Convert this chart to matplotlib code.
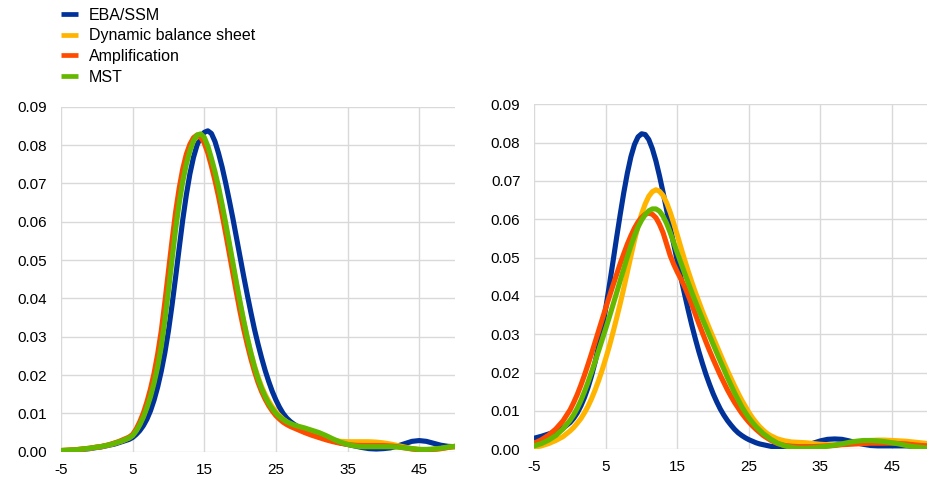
import matplotlib
matplotlib.use("Agg")
import matplotlib.pyplot as plt
from matplotlib.lines import Line2D

plt.rcParams["font.family"] = ["Liberation Sans", "DejaVu Sans"]

# x grid shared by all density curves: step 1 in the tails, 0.5 between 0 and 28
x_vals = [-5, -4, -3, -2, -1] + [i / 2 for i in range(0, 57)] + list(range(29, 51))

series_names = ["EBA/SSM", "Dynamic balance sheet", "Amplification", "MST"]
series_colors = ["#003299", "#FFB400", "#FF4B00", "#65B800"]

# left panel
eba_left = [0.0002, 0.0003, 0.0004, 0.0006, 0.0008,
            0.0011, 0.0012, 0.0014, 0.0016, 0.0018, 0.0020, 0.0023, 0.0026, 0.0029, 0.0032,
            0.0037, 0.0045, 0.0055, 0.0068, 0.0085, 0.0107, 0.0135, 0.0169, 0.0210, 0.0258,
            0.0315, 0.0382, 0.0455, 0.0531, 0.0605, 0.0670, 0.0725, 0.0768, 0.0800, 0.0821,
            0.0833, 0.0837, 0.0830, 0.0809, 0.0778, 0.0742, 0.0700, 0.0655, 0.0608, 0.0558,
            0.0508, 0.0458, 0.0410, 0.0364, 0.0320, 0.0281, 0.0245, 0.0212, 0.0183, 0.0157,
            0.0135, 0.0116, 0.0100, 0.0088, 0.0079, 0.0072, 0.0066,
            0.0056, 0.0047, 0.0040, 0.0034, 0.0028, 0.0023, 0.0019, 0.0015, 0.0011, 0.0008,
            0.0007, 0.0008, 0.0010, 0.0015, 0.0021, 0.0027, 0.0029, 0.0027, 0.0022, 0.0017,
            0.0014, 0.0013]
dbs_left = [0.0003, 0.0004, 0.0005, 0.0007, 0.0009,
            0.0012, 0.0013, 0.0015, 0.0017, 0.0019, 0.0022, 0.0025, 0.0028, 0.0032, 0.0036,
            0.0043, 0.0056, 0.0073, 0.0094, 0.0120, 0.0151, 0.0188, 0.0233, 0.0288, 0.0359,
            0.0438, 0.0520, 0.0598, 0.0663, 0.0717, 0.0760, 0.0792, 0.0812, 0.0822, 0.0822,
            0.0812, 0.0789, 0.0757, 0.0722, 0.0682, 0.0637, 0.0588, 0.0537, 0.0486, 0.0435,
            0.0386, 0.0340, 0.0297, 0.0258, 0.0224, 0.0195, 0.0170, 0.0149, 0.0132, 0.0117,
            0.0104, 0.0094, 0.0085, 0.0078, 0.0071, 0.0066, 0.0061,
            0.0052, 0.0045, 0.0039, 0.0034, 0.0030, 0.0027, 0.0026, 0.0026, 0.0026, 0.0026,
            0.0025, 0.0023, 0.0020, 0.0016, 0.0012, 0.0008, 0.0006, 0.0005, 0.0006, 0.0008,
            0.0011, 0.0013]
amp_left = [0.0003, 0.0004, 0.0005, 0.0007, 0.0009,
            0.0012, 0.0013, 0.0015, 0.0017, 0.0020, 0.0023, 0.0026, 0.0030, 0.0034, 0.0038,
            0.0045, 0.0059, 0.0078, 0.0101, 0.0130, 0.0164, 0.0205, 0.0255, 0.0315, 0.0390,
            0.0470, 0.0550, 0.0625, 0.0687, 0.0738, 0.0776, 0.0802, 0.0819, 0.0826, 0.0821,
            0.0805, 0.0779, 0.0745, 0.0707, 0.0665, 0.0618, 0.0568, 0.0517, 0.0465, 0.0414,
            0.0365, 0.0320, 0.0280, 0.0243, 0.0210, 0.0181, 0.0157, 0.0137, 0.0120, 0.0106,
            0.0094, 0.0085, 0.0077, 0.0071, 0.0066, 0.0062, 0.0058,
            0.0050, 0.0043, 0.0037, 0.0031, 0.0026, 0.0022, 0.0019, 0.0017, 0.0016, 0.0016,
            0.0016, 0.0016, 0.0015, 0.0013, 0.0010, 0.0007, 0.0005, 0.0005, 0.0006, 0.0008,
            0.0011, 0.0014]
mst_left = [0.0003, 0.0004, 0.0005, 0.0007, 0.0009,
            0.0012, 0.0013, 0.0015, 0.0017, 0.0019, 0.0022, 0.0025, 0.0028, 0.0032, 0.0036,
            0.0042, 0.0054, 0.0070, 0.0090, 0.0115, 0.0144, 0.0180, 0.0222, 0.0275, 0.0343,
            0.0420, 0.0501, 0.0580, 0.0648, 0.0705, 0.0750, 0.0785, 0.0811, 0.0826, 0.0829,
            0.0820, 0.0797, 0.0765, 0.0730, 0.0690, 0.0644, 0.0595, 0.0544, 0.0492, 0.0440,
            0.0390, 0.0342, 0.0298, 0.0258, 0.0222, 0.0191, 0.0165, 0.0144, 0.0126, 0.0112,
            0.0100, 0.0091, 0.0084, 0.0078, 0.0074, 0.0070, 0.0067,
            0.0062, 0.0056, 0.0050, 0.0042, 0.0033, 0.0025, 0.0019, 0.0015, 0.0013, 0.0013,
            0.0013, 0.0013, 0.0013, 0.0012, 0.0010, 0.0008, 0.0006, 0.0006, 0.0007, 0.0009,
            0.0012, 0.0014]

# right panel
eba_right = [0.0029, 0.0034, 0.0040, 0.0046, 0.0055,
             0.0070, 0.0081, 0.0095, 0.0113, 0.0135, 0.0161, 0.0192, 0.0228, 0.0270, 0.0317,
             0.0370, 0.0429, 0.0490, 0.0552, 0.0612, 0.0669, 0.0720, 0.0763, 0.0795, 0.0815,
             0.0823, 0.0821, 0.0808, 0.0784, 0.0752, 0.0713, 0.0670, 0.0624, 0.0578, 0.0534,
             0.0490, 0.0447, 0.0405, 0.0364, 0.0325, 0.0289, 0.0255, 0.0224, 0.0195, 0.0169,
             0.0145, 0.0124, 0.0105, 0.0089, 0.0075, 0.0063, 0.0052, 0.0043, 0.0036, 0.0030,
             0.0025, 0.0021, 0.0017, 0.0014, 0.0012, 0.0010, 0.0008,
             0.0005, 0.0004, 0.0004, 0.0006, 0.0010, 0.0016, 0.0022, 0.0026, 0.0027, 0.0026,
             0.0022, 0.0017, 0.0013, 0.0010, 0.0009, 0.0009, 0.0009, 0.0009, 0.0009, 0.0008,
             0.0007, 0.0006]
dbs_right = [0.0005, 0.0009, 0.0015, 0.0023, 0.0033,
             0.0048, 0.0057, 0.0068, 0.0080, 0.0095, 0.0112, 0.0132, 0.0155, 0.0180, 0.0208,
             0.0238, 0.0270, 0.0305, 0.0342, 0.0380, 0.0420, 0.0462, 0.0504, 0.0545, 0.0582,
             0.0614, 0.0640, 0.0660, 0.0672, 0.0677, 0.0673, 0.0662, 0.0643, 0.0618, 0.0589,
             0.0558, 0.0526, 0.0495, 0.0465, 0.0437, 0.0410, 0.0385, 0.0360, 0.0337, 0.0314,
             0.0292, 0.0270, 0.0248, 0.0226, 0.0205, 0.0185, 0.0165, 0.0146, 0.0128, 0.0112,
             0.0096, 0.0082, 0.0070, 0.0059, 0.0050, 0.0042, 0.0036,
             0.0027, 0.0022, 0.0019, 0.0018, 0.0017, 0.0015, 0.0013, 0.0012, 0.0012, 0.0013,
             0.0015, 0.0018, 0.0021, 0.0023, 0.0024, 0.0024, 0.0023, 0.0022, 0.0021, 0.0019,
             0.0017, 0.0015]
amp_right = [0.0016, 0.0025, 0.0037, 0.0053, 0.0074,
             0.0103, 0.0122, 0.0143, 0.0167, 0.0193, 0.0221, 0.0250, 0.0280, 0.0310, 0.0340,
             0.0370, 0.0399, 0.0428, 0.0456, 0.0484, 0.0510, 0.0535, 0.0557, 0.0577, 0.0593,
             0.0605, 0.0613, 0.0616, 0.0613, 0.0604, 0.0587, 0.0565, 0.0535, 0.0505, 0.0482,
             0.0462, 0.0444, 0.0425, 0.0402, 0.0378, 0.0353, 0.0328, 0.0304, 0.0280, 0.0257,
             0.0235, 0.0214, 0.0193, 0.0174, 0.0155, 0.0138, 0.0122, 0.0108, 0.0094, 0.0082,
             0.0071, 0.0061, 0.0052, 0.0044, 0.0036, 0.0030, 0.0024,
             0.0015, 0.0010, 0.0008, 0.0007, 0.0007, 0.0007, 0.0008, 0.0009, 0.0010, 0.0012,
             0.0013, 0.0014, 0.0015, 0.0016, 0.0016, 0.0016, 0.0016, 0.0015, 0.0014, 0.0012,
             0.0010, 0.0009]
mst_right = [0.0009, 0.0015, 0.0024, 0.0036, 0.0053,
             0.0076, 0.0090, 0.0107, 0.0127, 0.0150, 0.0175, 0.0202, 0.0229, 0.0258, 0.0287,
             0.0316, 0.0346, 0.0377, 0.0408, 0.0440, 0.0471, 0.0502, 0.0531, 0.0557, 0.0580,
             0.0598, 0.0612, 0.0622, 0.0627, 0.0627, 0.0621, 0.0608, 0.0589, 0.0565, 0.0539,
             0.0512, 0.0486, 0.0460, 0.0435, 0.0410, 0.0386, 0.0363, 0.0340, 0.0318, 0.0296,
             0.0274, 0.0252, 0.0230, 0.0209, 0.0187, 0.0167, 0.0147, 0.0129, 0.0111, 0.0096,
             0.0082, 0.0070, 0.0059, 0.0050, 0.0041, 0.0034, 0.0027,
             0.0016, 0.0009, 0.0005, 0.0003, 0.0003, 0.0004, 0.0006, 0.0008, 0.0011, 0.0014,
             0.0018, 0.0021, 0.0023, 0.0023, 0.0022, 0.0020, 0.0017, 0.0014, 0.0010, 0.0007,
             0.0005, 0.0003]

x_ticks = [-5, 5, 15, 25, 35, 45]
y_ticks = [0.00, 0.01, 0.02, 0.03, 0.04, 0.05, 0.06, 0.07, 0.08, 0.09]

fig = plt.figure(figsize=(9.28, 4.79), dpi=100)
ax_l = fig.add_axes([0.0657, 0.057, 0.4246, 0.7203])
ax_r = fig.add_axes([0.5758, 0.062, 0.4239, 0.7203])

panels = [
    (ax_l, [eba_left, dbs_left, amp_left, mst_left]),
    (ax_r, [eba_right, dbs_right, amp_right, mst_right]),
]

for ax, series in panels:
    for vals, col in zip(series, series_colors):
        ax.plot(x_vals, vals, color=col, lw=3.7, solid_joinstyle="round",
                solid_capstyle="round")
    ax.set_xlim(-5, 50)
    ax.set_ylim(0, 0.09)
    ax.set_xticks(x_ticks)
    ax.set_yticks(y_ticks)
    ax.set_xticklabels([str(t) for t in x_ticks])
    ax.set_yticklabels(["%.2f" % t for t in y_ticks])
    ax.grid(True, color="#d9d9d9", lw=1.0)
    ax.set_axisbelow(True)
    for s in ax.spines.values():
        s.set_visible(False)
    ax.tick_params(length=0, labelsize=11, colors="black")
    ax.tick_params(axis="y", pad=10)
    ax.tick_params(axis="x", pad=8)

handles = [Line2D([0], [0], color=c, lw=3.4, solid_capstyle="butt") for c in series_colors]
fig.legend(handles, series_names, loc="upper left", bbox_to_anchor=(0.0589, 0.9975),
           frameon=False, fontsize=11.5, handlelength=1.05, handletextpad=0.7,
           labelspacing=0.355, borderaxespad=0)

fig.savefig("out.png", dpi=100)
